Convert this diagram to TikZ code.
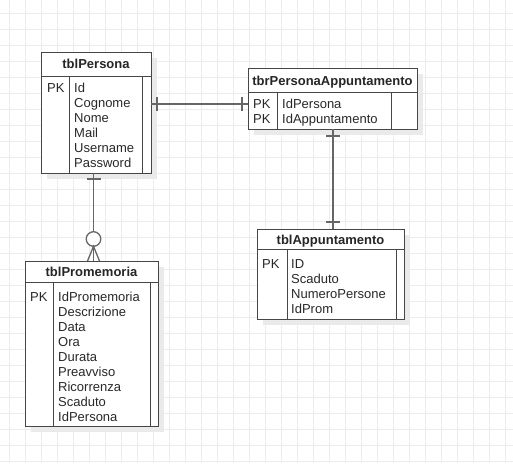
\documentclass[tikz,border=0pt]{standalone}
\usepackage{fontspec}
\setmainfont{Liberation Sans}
\usetikzlibrary{shadows}
\definecolor{gridc}{RGB}{236,236,236}
\definecolor{boxc}{RGB}{70,70,70}
\definecolor{connc}{RGB}{102,102,102}
\definecolor{txtc}{RGB}{40,40,40}
\definecolor{shadc}{RGB}{234,234,234}
\begin{document}
\begin{tikzpicture}[x=1pt,y=-1pt,
  tbl/.style={draw=boxc, line width=1pt, fill=white, inner sep=0pt, outer sep=0pt,
    drop shadow={shadow xshift=6pt, shadow yshift=-6pt, fill=shadc, opacity=1}},
  boxline/.style={draw=boxc, line width=1pt},
  conn/.style={draw=connc, line width=1.3pt},
  fieldtxt/.style={anchor=west, inner sep=0pt, text height=9.3pt, text depth=0pt,
    text=txtc, font=\fontsize{13}{15}\selectfont},
  headtxt/.style={inner sep=0pt, text height=9.3pt, text depth=0pt,
    text=black!85, font=\fontsize{13}{15}\selectfont\bfseries}
]
\useasboundingbox (0,0) rectangle (513,463);
\fill[white] (0,0) rectangle (513,463);
% background grid
\foreach \gx in {9,25,...,505} \draw[gridc, line width=1pt] (\gx,0) -- (\gx,463);
\foreach \gy in {13,29,...,461} \draw[gridc, line width=1pt] (0,\gy) -- (513,\gy);

% tblPersona
\node[tbl, minimum width=110pt, minimum height=121pt] (A) at (96,112.5) {};
\draw[boxline] (41,76) -- (151,76);
\draw[boxline] (69,76) -- (69,173);
\draw[boxline] (142,76) -- (142,173);
\node[headtxt] (A-h) at (96,64) {tblPersona};
\node[fieldtxt] (A-pk) at (47,88) {PK};
\foreach \t [count=\i] in {Id,Cognome,Nome,Mail,Username,Password}
  \node[fieldtxt] (A-f\i) at (74,{88+15*(\i-1)}) {\t};

% tbrPersonaAppuntamento
\node[tbl, minimum width=169pt, minimum height=61pt] (B) at (332.5,98.5) {};
\draw[boxline] (248,92) -- (417,92);
\draw[boxline] (277,92) -- (277,129);
\draw[boxline] (391,92) -- (391,129);
\node[headtxt] (B-h) at (332.5,81) {tbrPersonaAppuntamento};
\node[fieldtxt] (B-pk1) at (253,104) {PK};
\node[fieldtxt] (B-pk2) at (253,119) {PK};
\node[fieldtxt] (B-f1) at (282,104) {IdPersona};
\node[fieldtxt] (B-f2) at (282,119) {IdAppuntamento};

% tblPromemoria
\node[tbl, minimum width=133pt, minimum height=165pt] (C) at (91.5,343.5) {};
\draw[boxline] (25,282) -- (158,282);
\draw[boxline] (53,282) -- (53,426);
\draw[boxline] (150,282) -- (150,426);
\node[headtxt] (C-h) at (91.5,272) {tblPromemoria};
\node[fieldtxt] (C-pk) at (30,296.5) {PK};
\foreach \t [count=\i] in {IdPromemoria,Descrizione,Data,Ora,Durata,Preavviso,Ricorrenza,Scaduto,IdPersona}
  \node[fieldtxt] (C-f\i) at (58,{296.5+15*(\i-1)}) {\t};

% tblAppuntamento
\node[tbl, minimum width=147pt, minimum height=90pt] (D) at (330.5,274) {};
\draw[boxline] (257,249) -- (404,249);
\draw[boxline] (287,249) -- (287,319);
\draw[boxline] (396,249) -- (396,319);
\node[headtxt] (D-h) at (330.5,240) {tblAppuntamento};
\node[fieldtxt] (D-pk) at (262,264) {PK};
\foreach \t [count=\i] in {ID,Scaduto,NumeroPersone,IdProm}
  \node[fieldtxt] (D-f\i) at (291,{264+15*(\i-1)}) {\t};

% relationships
\coordinate (xAC) at (93.5,0);
\coordinate (yAB) at (0,104);
\coordinate (xBD) at (333,0);

% tblPersona (one) -- tblPromemoria (zero or many)
\draw[conn] (A.south -| xAC) -- (C.north -| xAC);
\draw[conn] (86.5,179) -- (100.5,179);
\draw[conn, fill=white] (93.5,239) circle[radius=7.3];
\draw[conn] (87.5,261) -- (93.5,246.3) -- (99.5,261);
\draw[conn] (93.5,246.3) -- (93.5,261);

% tblPersona (one) -- tbrPersonaAppuntamento (one)
\draw[conn] (A.east |- yAB) -- (B.west |- yAB);
\draw[conn] (157,97) -- (157,111);
\draw[conn] (242,97) -- (242,111);

% tbrPersonaAppuntamento (one) -- tblAppuntamento (one)
\draw[conn] (B.south -| xBD) -- (D.north -| xBD);
\draw[conn] (326,136) -- (340,136);
\draw[conn] (326,222) -- (340,222);
\end{tikzpicture}
\end{document}
